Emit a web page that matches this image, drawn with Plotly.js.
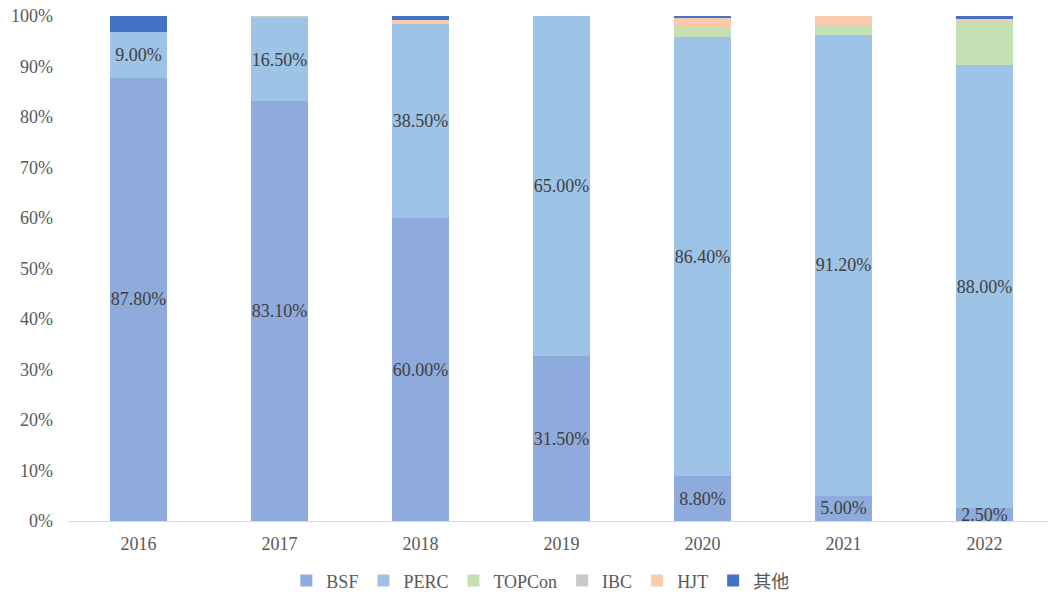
<!DOCTYPE html>
<html>
<head>
<meta charset="utf-8">
<script src="https://cdn.plot.ly/plotly-3.0.1.min.js"></script>
<style>html,body{margin:0;padding:0;background:#fff;}#chart{width:1048px;height:597px;}</style>
</head>
<body>
<div id="chart"></div>
<script>
const years = ['2016', '2017', '2018', '2019', '2020', '2021', '2022'];
const bsf    = [87.8, 83.1, 60.0, 31.5, 8.8, 5.0, 2.5];
const perc   = [9.0, 16.5, 38.5, 65.0, 86.4, 91.2, 88.0];
const topcon = [0, 0, 0, 0, 2.0, 2.0, 8.8];
const ibc    = [0, 0.4, 0, 0, 0, 0, 0];
const hjt    = [0, 0, 0.8, 0, 1.8, 1.8, 0.3];
const other  = [3.2, 0, 0.7, 0, 0.3, 0, 0.6];

const names  = ['BSF', 'PERC', 'TOPCon', 'IBC', 'HJT', '其他'];
const series = [bsf, perc, topcon, ibc, hjt, other];
const colors = ['#8FAADC', '#9DC3E6', '#C5E0B4', '#C9C9C9', '#F8CBAD', '#4472C4'];
const labelled = [true, true, false, false, false, false];

const fontFam = '"Liberation Serif", "Times New Roman", "Noto Sans CJK SC", serif';

const traces = series.map((vals, i) => ({
  type: 'bar',
  name: names[i],
  x: years,
  y: vals,
  width: 0.4,
  marker: {color: colors[i], line: {width: 0}},
  text: labelled[i] ? vals.map(v => v.toFixed(2) + '%') : undefined,
  textposition: labelled[i] ? 'inside' : 'none',
  insidetextanchor: 'middle',
  constraintext: 'none',
  textangle: 0,
  textfont: {family: fontFam, size: 18, color: '#404040'},
  hoverinfo: 'name+y'
}));

const layout = {
  width: 1048,
  height: 597,
  margin: {l: 68, r: 0, t: 16, b: 76},
  paper_bgcolor: '#ffffff',
  plot_bgcolor: '#ffffff',
  barmode: 'stack',
  barnorm: 'percent',
  font: {family: fontFam, size: 18, color: '#595959'},
  xaxis: {
    type: 'category',
    range: [-0.5, 6.45],
    showgrid: false,
    showline: true,
    linecolor: '#D9D9D9',
    linewidth: 1,
    ticks: '',
    ticklabelstandoff: 6,
    tickfont: {family: fontFam, size: 18, color: '#595959'},
    zeroline: false
  },
  yaxis: {
    range: [0, 100],
    dtick: 10,
    tick0: 0,
    ticksuffix: '%',
    showgrid: false,
    showline: false,
    zeroline: false,
    ticks: '',
    ticklabelstandoff: 14,
    tickfont: {family: fontFam, size: 18, color: '#595959'}
  },
  showlegend: true,
  legend: {
    orientation: 'h',
    x: 0.482,
    xanchor: 'center',
    yref: 'container',
    y: 0.027,
    yanchor: 'middle',
    traceorder: 'normal',
    font: {family: fontFam, size: 18, color: '#595959'},
    itemwidth: 30,
    tracegroupgap: 0
  }
};

Plotly.newPlot('chart', traces, layout, {displayModeBar: false, staticPlot: true});
</script>
</body>
</html>
